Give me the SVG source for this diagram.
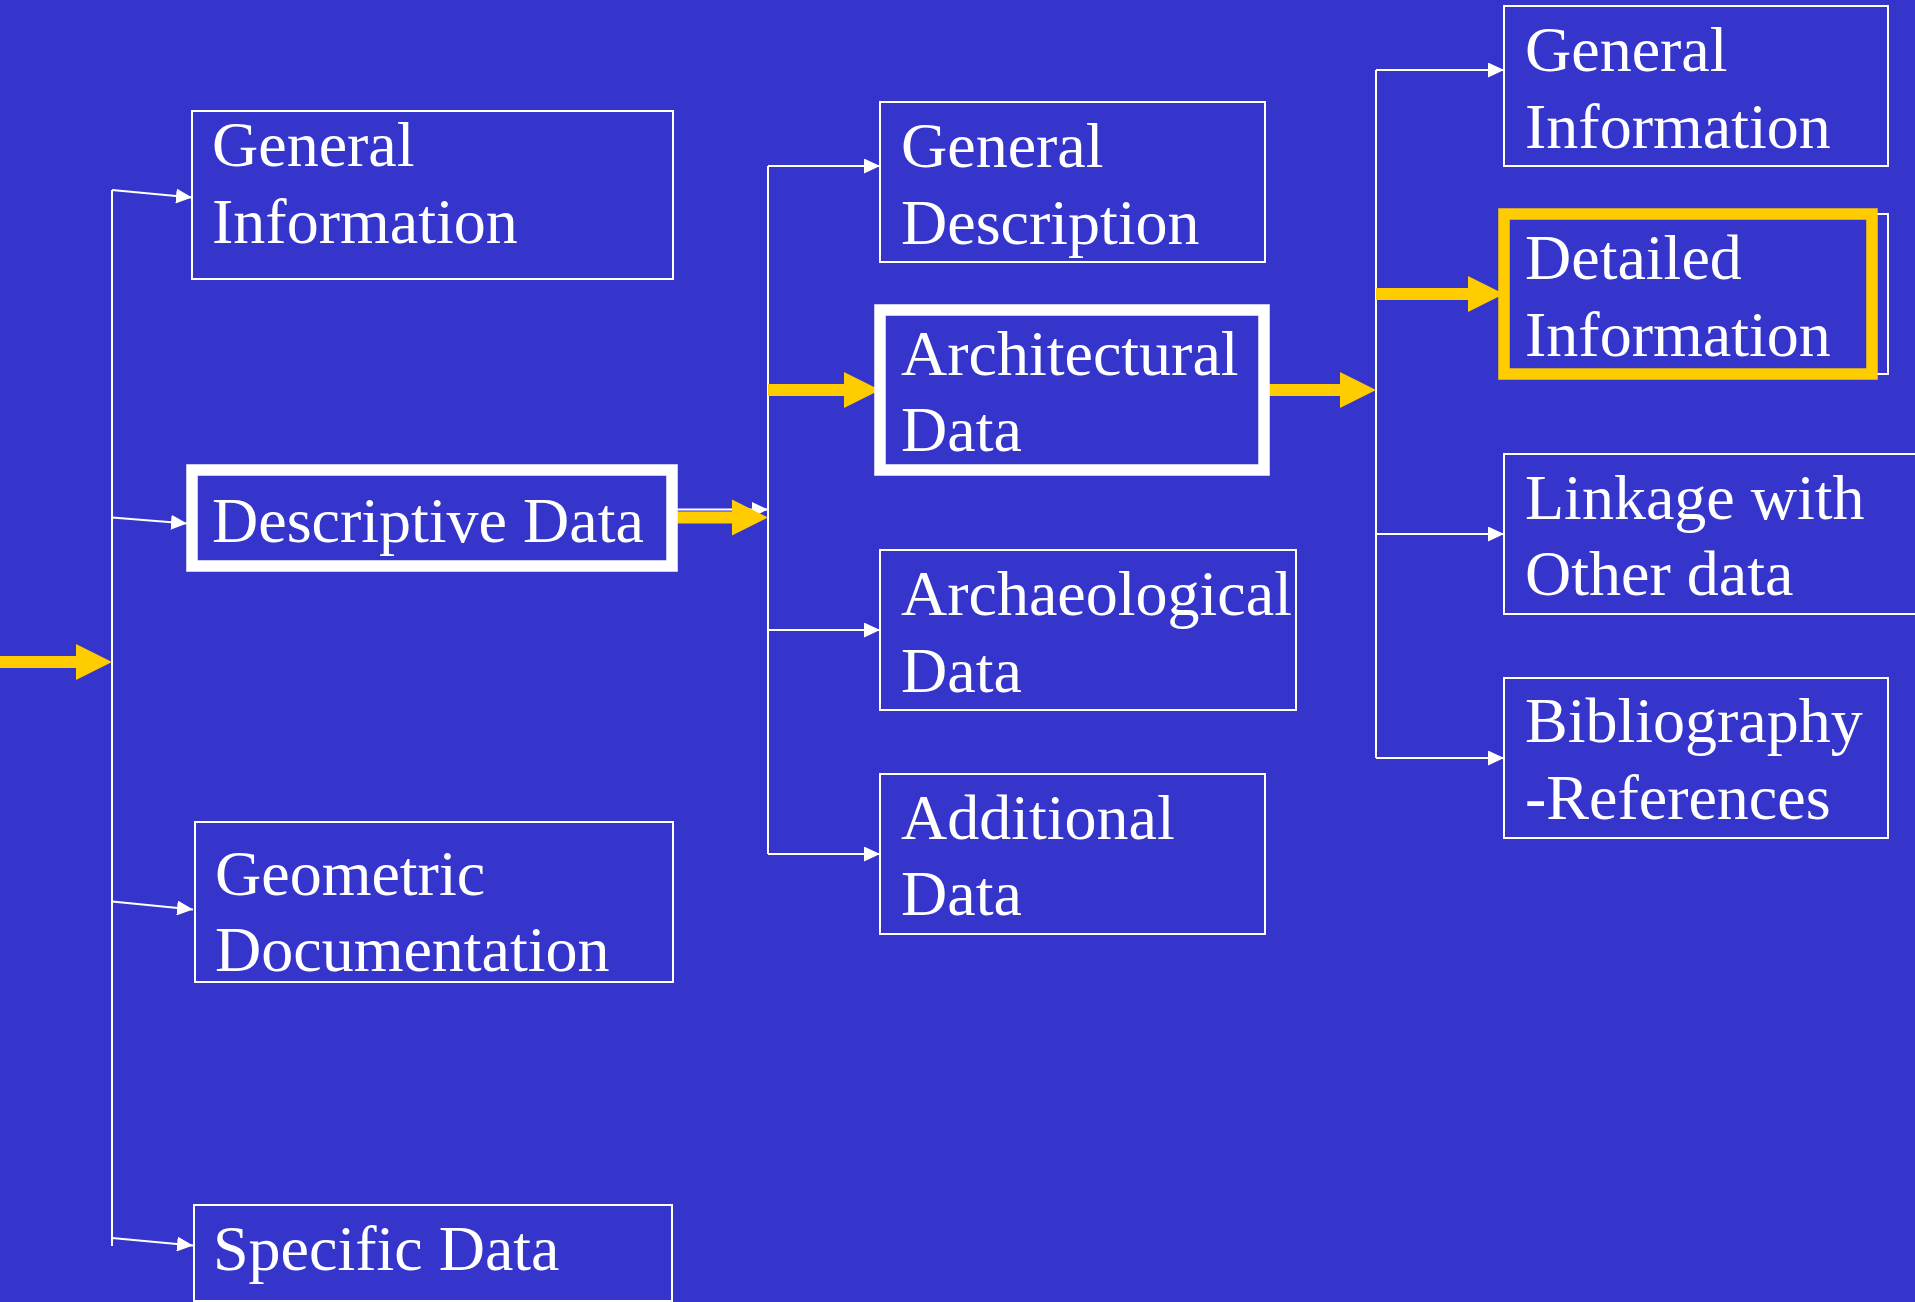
<svg xmlns="http://www.w3.org/2000/svg" width="1915" height="1302" viewBox="0 0 1915 1302">
  <style>
    .bg { fill: #3535cc; }
    .box { fill: #3535cc; stroke: #ffffff; stroke-width: 2; }
    .box-hi { fill: #3535cc; stroke: #ffffff; stroke-width: 11.5; }
    .box-sel { fill: #3535cc; stroke: #ffcc00; stroke-width: 11.5; }
    .label { font-family: "Liberation Serif", "Times New Roman", serif; font-size: 64px; fill: #ffffff; }
    .wire { fill: none; stroke: #ffffff; stroke-width: 2; }
    .flow { fill: #ffcc00; }
  </style>
  <defs>
    <marker id="tip" markerUnits="userSpaceOnUse" markerWidth="16" markerHeight="15" refX="16" refY="7.5" orient="auto">
      <path d="M0,0 L16,7.5 L0,15 z" fill="#ffffff"/>
    </marker>
  </defs>

  <rect class="bg" x="0" y="0" width="1915" height="1302"/>

  <g id="connectors">
    <!-- first-level branch -->
    <line class="wire" x1="112" y1="190" x2="112" y2="1246"/>
    <line class="wire" x1="112" y1="190" x2="192" y2="197.5" marker-end="url(#tip)"/>
    <line class="wire" x1="112" y1="517.5" x2="187" y2="523.5" marker-end="url(#tip)"/>
    <line class="wire" x1="112" y1="901.5" x2="193" y2="909.5" marker-end="url(#tip)"/>
    <line class="wire" x1="112" y1="1238" x2="193" y2="1245.5" marker-end="url(#tip)"/>

    <!-- second-level branch -->
    <line class="wire" x1="672" y1="509.5" x2="768" y2="509.5" marker-end="url(#tip)"/>
    <line class="wire" x1="768" y1="166" x2="768" y2="854"/>
    <line class="wire" x1="768" y1="166" x2="880" y2="166" marker-end="url(#tip)"/>
    <line class="wire" x1="768" y1="630" x2="880" y2="630" marker-end="url(#tip)"/>
    <line class="wire" x1="768" y1="854" x2="880" y2="854" marker-end="url(#tip)"/>

    <!-- third-level branch -->
    <line class="wire" x1="1376" y1="70" x2="1376" y2="758"/>
    <line class="wire" x1="1376" y1="70" x2="1504" y2="70" marker-end="url(#tip)"/>
    <line class="wire" x1="1376" y1="534" x2="1504" y2="534" marker-end="url(#tip)"/>
    <line class="wire" x1="1376" y1="758" x2="1504" y2="758" marker-end="url(#tip)"/>

    <!-- highlighted path -->
    <polygon class="flow" points="0,656 76,656 76,644 112,662 76,680 76,668 0,668"/>
    <polygon class="flow" points="672,511.5 732,511.5 732,499.5 768,517.5 732,535.5 732,523.5 672,523.5"/>
    <polygon class="flow" points="768,384 844,384 844,372 880,390 844,408 844,396 768,396"/>
    <polygon class="flow" points="1264,384 1340,384 1340,372 1376,390 1340,408 1340,396 1264,396"/>
    <polygon class="flow" points="1376,288 1468,288 1468,276 1504,294 1468,312 1468,300 1376,300"/>
  </g>

  <!-- first column -->
  <g id="general-information">
    <rect class="box" x="192" y="111" width="481" height="168"/>
    <text class="label" x="212" y="166">General</text>
    <text class="label" x="212" y="243">Information</text>
  </g>
  <g id="descriptive-data">
    <rect class="box-hi" x="192" y="470" width="480" height="96"/>
    <text class="label" x="212" y="541.5">Descriptive Data</text>
  </g>
  <g id="geometric-documentation">
    <rect class="box" x="195" y="822" width="478" height="160"/>
    <text class="label" x="215" y="894.5">Geometric</text>
    <text class="label" x="215" y="971">Documentation</text>
  </g>
  <g id="specific-data">
    <rect class="box" x="194" y="1205" width="478" height="96"/>
    <text class="label" x="213" y="1270">Specific Data</text>
  </g>

  <!-- second column -->
  <g id="general-description">
    <rect class="box" x="880" y="102" width="385" height="160"/>
    <text class="label" x="901" y="167">General</text>
    <text class="label" x="901" y="244">Description</text>
  </g>
  <g id="architectural-data">
    <rect class="box-hi" x="880" y="310" width="384" height="160"/>
    <text class="label" x="901" y="375">Architectural</text>
    <text class="label" x="901" y="451">Data</text>
  </g>
  <g id="archaeological-data">
    <rect class="box" x="880" y="550" width="416" height="160"/>
    <text class="label" x="901" y="615">Archaeological</text>
    <text class="label" x="901" y="691.5">Data</text>
  </g>
  <g id="additional-data">
    <rect class="box" x="880" y="774" width="385" height="160"/>
    <text class="label" x="901" y="839">Additional</text>
    <text class="label" x="901" y="915">Data</text>
  </g>

  <!-- third column -->
  <g id="general-information-2">
    <rect class="box" x="1504" y="6" width="384" height="160"/>
    <text class="label" x="1525" y="71">General</text>
    <text class="label" x="1525" y="147.5">Information</text>
  </g>
  <g id="detailed-information">
    <rect class="box" x="1504" y="214" width="384" height="160"/>
    <rect class="box-sel" x="1504" y="214" width="368" height="160"/>
    <text class="label" x="1525" y="278.5">Detailed</text>
    <text class="label" x="1525" y="356">Information</text>
  </g>
  <g id="linkage-with-other-data">
    <rect class="box" x="1504" y="454" width="500" height="160"/>
    <text class="label" x="1525" y="519">Linkage with</text>
    <text class="label" x="1525" y="595">Other data</text>
  </g>
  <g id="bibliography-references">
    <rect class="box" x="1504" y="678" width="384" height="160"/>
    <text class="label" x="1525" y="741.5">Bibliography</text>
    <text class="label" x="1525" y="819">-References</text>
  </g>
</svg>
